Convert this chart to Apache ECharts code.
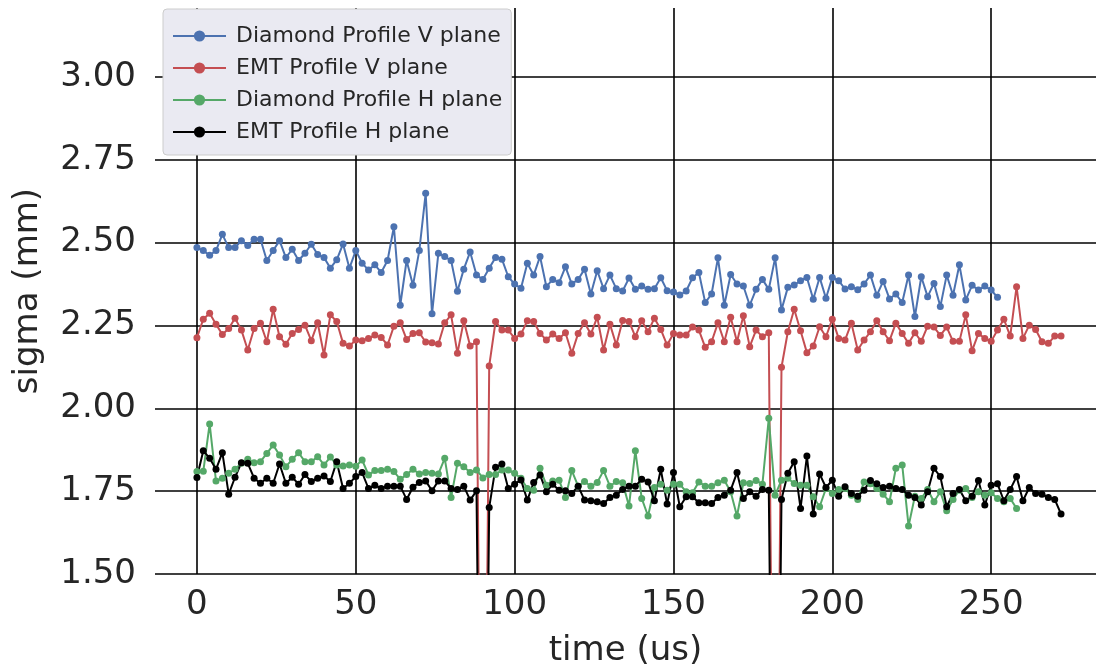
<!DOCTYPE html>
<html>
<head>
<meta charset="utf-8">
<script src="https://cdn.jsdelivr.net/npm/echarts@6/dist/echarts.min.js"></script>
<style>
  html, body { margin: 0; padding: 0; background: #ffffff; }
  #chart { width: 1096px; height: 670px; }
</style>
</head>
<body>
<div id="chart"></div>
<script>
// Beam size (sigma) measured every 2 us by the diamond and EMT profile monitors.
const timeStep = 2;

const diamondV = [
  2.485, 2.476, 2.462, 2.476, 2.525, 2.485, 2.485, 2.506, 2.491, 2.510,
  2.510, 2.446, 2.476, 2.506, 2.455, 2.480, 2.446, 2.468, 2.495, 2.464,
  2.455, 2.423, 2.448, 2.496, 2.423, 2.476, 2.438, 2.417, 2.433, 2.410,
  2.446, 2.548, 2.311, 2.446, 2.371, 2.476, 2.649, 2.285, 2.468, 2.458,
  2.446, 2.353, 2.420, 2.472, 2.402, 2.389, 2.423, 2.455, 2.450, 2.397,
  2.375, 2.362, 2.438, 2.402, 2.458, 2.367, 2.389, 2.379, 2.427, 2.375,
  2.389, 2.420, 2.345, 2.415, 2.361, 2.402, 2.361, 2.354, 2.393, 2.359,
  2.369, 2.359, 2.361, 2.394, 2.355, 2.351, 2.342, 2.354, 2.394, 2.410,
  2.319, 2.345, 2.454, 2.311, 2.404, 2.375, 2.369, 2.311, 2.359, 2.389,
  2.359, 2.454, 2.297, 2.365, 2.372, 2.385, 2.395, 2.329, 2.395, 2.332,
  2.395, 2.385, 2.360, 2.367, 2.358, 2.375, 2.402, 2.341, 2.383, 2.330,
  2.345, 2.319, 2.402, 2.277, 2.397, 2.337, 2.377, 2.307, 2.402, 2.341,
  2.433, 2.327, 2.371, 2.357, 2.369, 2.357, 2.335
];

const emtV = [
  2.213, 2.269, 2.287, 2.254, 2.223, 2.241, 2.272, 2.236, 2.176, 2.241,
  2.257, 2.201, 2.299, 2.216, 2.193, 2.226, 2.238, 2.251, 2.204, 2.258,
  2.161, 2.282, 2.262, 2.196, 2.188, 2.206, 2.204, 2.211, 2.221, 2.214,
  2.191, 2.248, 2.258, 2.208, 2.226, 2.228, 2.200, 2.198, 2.194, 2.258,
  2.282, 2.166, 2.264, 2.188, 2.201, 0.000, 2.128, 2.262, 2.236, 2.236,
  2.211, 2.224, 2.264, 2.262, 2.226, 2.206, 2.224, 2.211, 2.228, 2.166,
  2.226, 2.258, 2.224, 2.275, 2.176, 2.254, 2.191, 2.265, 2.262, 2.216,
  2.264, 2.231, 2.272, 2.238, 2.191, 2.226, 2.221, 2.221, 2.245, 2.236,
  2.184, 2.201, 2.258, 2.201, 2.275, 2.201, 2.279, 2.186, 2.236, 2.216,
  2.228, 0.000, 2.124, 2.231, 2.299, 2.234, 2.168, 2.188, 2.246, 2.216,
  2.269, 2.211, 2.206, 2.257, 2.176, 2.206, 2.231, 2.264, 2.231, 2.204,
  2.257, 2.226, 2.196, 2.228, 2.202, 2.248, 2.245, 2.220, 2.245, 2.202,
  2.202, 2.282, 2.174, 2.226, 2.211, 2.202, 2.236, 2.269, 2.218, 2.367,
  2.211, 2.251, 2.238, 2.201, 2.196, 2.218, 2.218
];

const diamondH = [
  1.809, 1.810, 1.953, 1.781, 1.789, 1.804, 1.816, 1.834, 1.846, 1.836,
  1.839, 1.864, 1.889, 1.859, 1.824, 1.846, 1.866, 1.839, 1.839, 1.854,
  1.829, 1.853, 1.829, 1.826, 1.829, 1.825, 1.844, 1.799, 1.812, 1.812,
  1.816, 1.809, 1.786, 1.800, 1.816, 1.802, 1.806, 1.804, 1.802, 1.849,
  1.731, 1.834, 1.824, 1.806, 1.814, 1.790, 1.800, 1.800, 1.814, 1.814,
  1.804, 1.789, 1.758, 1.753, 1.819, 1.768, 1.781, 1.783, 1.731, 1.812,
  1.765, 1.779, 1.765, 1.776, 1.812, 1.765, 1.779, 1.775, 1.705, 1.872,
  1.728, 1.675, 1.761, 1.771, 1.753, 1.771, 1.771, 1.748, 1.745, 1.778,
  1.765, 1.765, 1.775, 1.783, 1.748, 1.675, 1.775, 1.773, 1.782, 1.771,
  1.970, 1.738, 1.783, 1.789, 1.773, 1.768, 1.768, 1.733, 1.703, 1.758,
  1.743, 1.755, 1.758, 1.738, 1.725, 1.778, 1.772, 1.758, 1.741, 1.718,
  1.819, 1.829, 1.645, 1.735, 1.728, 1.755, 1.718, 1.748, 1.691, 1.725,
  1.753, 1.758, 1.731, 1.748, 1.738, 1.745, 1.728, 1.718, 1.728, 1.698
];

const emtH = [
  1.791, 1.872, 1.849, 1.816, 1.866, 1.741, 1.792, 1.836, 1.834, 1.789,
  1.774, 1.789, 1.774, 1.832, 1.774, 1.792, 1.771, 1.800, 1.779, 1.789,
  1.796, 1.779, 1.839, 1.758, 1.774, 1.794, 1.806, 1.758, 1.768, 1.758,
  1.765, 1.765, 1.765, 1.725, 1.762, 1.776, 1.781, 1.751, 1.781, 1.781,
  1.758, 1.755, 1.765, 1.723, 1.751, 0.000, 1.701, 1.822, 1.832, 1.758,
  1.771, 1.784, 1.723, 1.776, 1.799, 1.748, 1.771, 1.753, 1.751, 1.743,
  1.765, 1.723, 1.721, 1.718, 1.713, 1.731, 1.738, 1.755, 1.765, 1.765,
  1.786, 1.778, 1.721, 1.816, 1.711, 1.806, 1.703, 1.733, 1.733, 1.715,
  1.715, 1.713, 1.731, 1.738, 1.753, 1.806, 1.728, 1.748, 1.735, 1.755,
  1.753, 0.000, 1.725, 1.804, 1.839, 1.698, 1.856, 1.681, 1.802, 1.761,
  1.783, 1.735, 1.763, 1.743, 1.735, 1.753, 1.782, 1.772, 1.761, 1.765,
  1.758, 1.755, 1.738, 1.731, 1.708, 1.748, 1.819, 1.794, 1.703, 1.743,
  1.755, 1.721, 1.735, 1.782, 1.708, 1.768, 1.772, 1.721, 1.755, 1.794,
  1.721, 1.761, 1.743, 1.741, 1.731, 1.725, 1.681
];

const xTicks = [0, 50, 100, 150, 200, 250];
const yTicks = [1.50, 1.75, 2.00, 2.25, 2.50, 2.75, 3.00];

const seriesDefs = [
  { name: 'Diamond Profile V plane', values: diamondV, color: '#4c72b0' },
  { name: 'EMT Profile V plane', values: emtV, color: '#c44e52' },
  { name: 'Diamond Profile H plane', values: diamondH, color: '#55a868' },
  { name: 'EMT Profile H plane', values: emtH, color: '#000000' }
];

const toPairs = (vals) => vals.map((v, i) => [i * timeStep, v]);

const font = 'DejaVu Sans';
const textColor = '#262626';

const chart = echarts.init(document.getElementById('chart'), null, { renderer: 'canvas' });

chart.setOption({
  animation: false,
  backgroundColor: '#ffffff',
  grid: { left: 155, right: 0, top: 8, bottom: 96, containLabel: false, outerBoundsMode: 'none' },
  legend: {
    orient: 'vertical',
    left: 163,
    top: 9,
    itemWidth: 53,
    itemHeight: 14,
    itemGap: 10,
    padding: [16, 9, 12, 9],
    backgroundColor: '#eaeaf2',
    borderColor: '#cccccc',
    borderWidth: 1,
    borderRadius: 4,
    textStyle: { fontFamily: font, fontSize: 22, color: textColor, padding: [0, 0, 0, 5] },
    data: seriesDefs.map(s => s.name)
  },
  xAxis: {
    type: 'value',
    min: -13.2,
    max: 283,
    name: 'time (us)',
    nameLocation: 'middle',
    nameGap: 60,
    nameTextStyle: { fontFamily: font, fontSize: 34, color: textColor },
    axisLine: { show: false },
    axisTick: { show: false, customValues: xTicks },
    axisLabel: {
      customValues: xTicks,
      fontFamily: font, fontSize: 34, color: textColor, margin: 14
    },
    splitLine: { show: true, lineStyle: { color: '#000000', width: 1.6 } }
  },
  yAxis: {
    type: 'value',
    min: 1.5,
    max: 3.208,
    name: 'sigma (mm)',
    nameLocation: 'middle',
    nameGap: 110,
    nameRotate: 90,
    nameTextStyle: { fontFamily: font, fontSize: 34, color: textColor },
    axisLine: { show: false },
    axisTick: { show: false, customValues: yTicks },
    axisLabel: {
      customValues: yTicks,
      fontFamily: font, fontSize: 34, color: textColor, margin: 19,
      formatter: (v) => v.toFixed(2)
    },
    splitLine: { show: true, lineStyle: { color: '#000000', width: 1.6 } }
  },
  series: seriesDefs.map(s => ({
    name: s.name,
    type: 'line',
    data: toPairs(s.values),
    color: s.color,
    symbol: 'circle',
    symbolSize: 7,
    showSymbol: true,
    clip: true,
    lineStyle: { width: 2, color: s.color },
    itemStyle: { color: s.color }
  }))
});
</script>
</body>
</html>
